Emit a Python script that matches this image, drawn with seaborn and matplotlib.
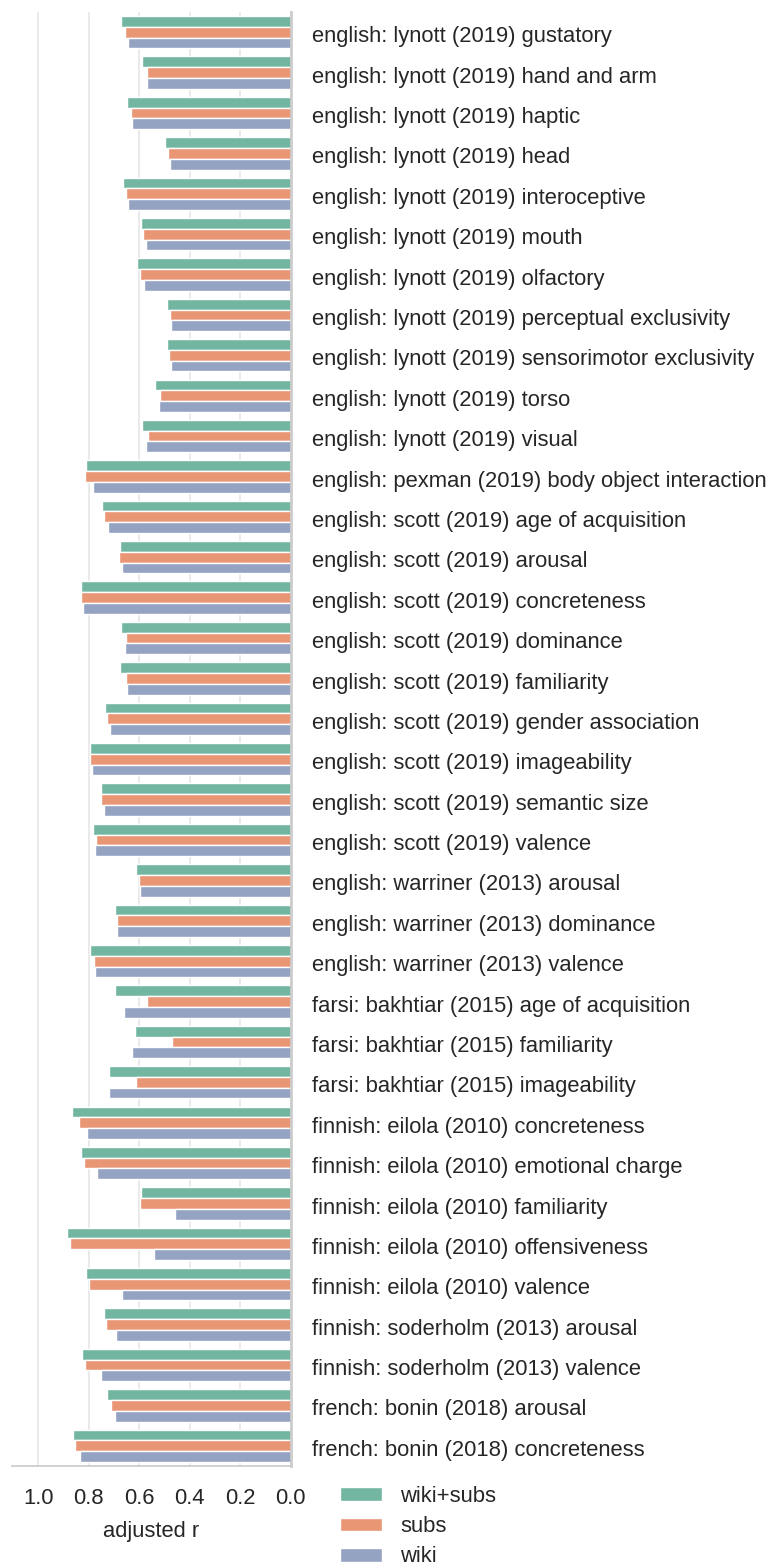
import matplotlib
matplotlib.use("Agg")
import matplotlib.pyplot as plt
import matplotlib.transforms as mtransforms
import numpy as np
import pandas as pd
import seaborn as sns

# Norm datasets (one row per category)
datasets = [
    "english: lynott (2019) gustatory",
    "english: lynott (2019) hand and arm",
    "english: lynott (2019) haptic",
    "english: lynott (2019) head",
    "english: lynott (2019) interoceptive",
    "english: lynott (2019) mouth",
    "english: lynott (2019) olfactory",
    "english: lynott (2019) perceptual exclusivity",
    "english: lynott (2019) sensorimotor exclusivity",
    "english: lynott (2019) torso",
    "english: lynott (2019) visual",
    "english: pexman (2019) body object interaction",
    "english: scott (2019) age of acquisition",
    "english: scott (2019) arousal",
    "english: scott (2019) concreteness",
    "english: scott (2019) dominance",
    "english: scott (2019) familiarity",
    "english: scott (2019) gender association",
    "english: scott (2019) imageability",
    "english: scott (2019) semantic size",
    "english: scott (2019) valence",
    "english: warriner (2013) arousal",
    "english: warriner (2013) dominance",
    "english: warriner (2013) valence",
    "farsi: bakhtiar (2015) age of acquisition",
    "farsi: bakhtiar (2015) familiarity",
    "farsi: bakhtiar (2015) imageability",
    "finnish: eilola (2010) concreteness",
    "finnish: eilola (2010) emotional charge",
    "finnish: eilola (2010) familiarity",
    "finnish: eilola (2010) offensiveness",
    "finnish: eilola (2010) valence",
    "finnish: soderholm (2013) arousal",
    "finnish: soderholm (2013) valence",
    "french: bonin (2018) arousal",
    "french: bonin (2018) concreteness",
]

# Adjusted r per training corpus
wiki_subs = [0.673, 0.590, 0.650, 0.498, 0.663, 0.595, 0.609, 0.492, 0.491,
             0.540, 0.590, 0.812, 0.750, 0.675, 0.832, 0.671, 0.676, 0.736,
             0.796, 0.754, 0.783, 0.613, 0.697, 0.795, 0.698, 0.619, 0.722,
             0.868, 0.831, 0.594, 0.886, 0.810, 0.741, 0.828, 0.728, 0.863]
subs = [0.658, 0.571, 0.635, 0.486, 0.652, 0.585, 0.598, 0.480, 0.482,
        0.519, 0.567, 0.816, 0.740, 0.680, 0.831, 0.654, 0.654, 0.728,
        0.796, 0.751, 0.773, 0.603, 0.687, 0.779, 0.569, 0.470, 0.614,
        0.839, 0.821, 0.599, 0.876, 0.799, 0.734, 0.815, 0.712, 0.856]
wiki = [0.647, 0.570, 0.630, 0.480, 0.647, 0.575, 0.581, 0.476, 0.476,
        0.521, 0.574, 0.782, 0.726, 0.667, 0.825, 0.658, 0.648, 0.717,
        0.786, 0.741, 0.775, 0.598, 0.689, 0.777, 0.659, 0.630, 0.720,
        0.807, 0.769, 0.458, 0.542, 0.668, 0.693, 0.751, 0.696, 0.835]

corpora = ["wiki+subs", "subs", "wiki"]
x_ticks = [1.0, 0.8, 0.6, 0.4, 0.2, 0.0]

df = pd.DataFrame({
    "dataset": datasets * 3,
    "corpus": np.repeat(corpora, len(datasets)),
    "adjusted r": wiki_subs + subs + wiki,
})

sns.set_theme(style="whitegrid")
plt.rcParams["font.family"] = ["Liberation Sans", "DejaVu Sans"]
FS = 15.8

W, H = 767, 1564
fig = plt.figure(figsize=(W / 100, H / 100), dpi=100)
left, right, top, bottom = 12, 290.7, 12, 1466
ax = fig.add_axes([left / W, 1 - bottom / H, (right - left) / W, (bottom - top) / H])

sns.barplot(data=df, y="dataset", x="adjusted r", hue="corpus",
            hue_order=corpora, order=datasets, palette="Set2", ax=ax)

ax.set_xlim(1.105, 0)
ax.set_xticks(x_ticks)
ax.set_xticklabels([f"{t:.1f}" for t in x_ticks])
ax.set_ylabel("")
ax.set_xlabel("adjusted r", fontsize=FS, labelpad=9)
ax.yaxis.tick_right()
ax.tick_params(axis="x", labelsize=FS, length=0, pad=15.5)
ax.tick_params(axis="y", labelsize=FS, length=0, pad=15)
ax.grid(axis="y", visible=False)
ax.grid(axis="x", color="#e6e6e6", linewidth=1.2)

# nudge the dataset names slightly down so they sit on the bar groups
shift = mtransforms.ScaledTranslation(0, -1.5 / 72, fig.dpi_scale_trans)
for lab in ax.get_yticklabels():
    lab.set_transform(lab.get_transform() + shift)

for side in ("left", "top"):
    ax.spines[side].set_visible(False)
ax.spines["right"].set_visible(True)
ax.spines["right"].set_color("#cccccc")
ax.spines["right"].set_linewidth(2)
ax.spines["bottom"].set_color("#cccccc")

handles, labels = ax.get_legend_handles_labels()
ax.get_legend().remove()
fig.legend(handles, labels, loc="upper left",
           bbox_to_anchor=(340 / W, 1 - 1486 / H),
           frameon=False, borderpad=0, borderaxespad=0, fontsize=FS,
           handlelength=1.92, handleheight=0.6, handletextpad=0.82,
           labelspacing=0.42)

fig.savefig("out.png", dpi=100)
